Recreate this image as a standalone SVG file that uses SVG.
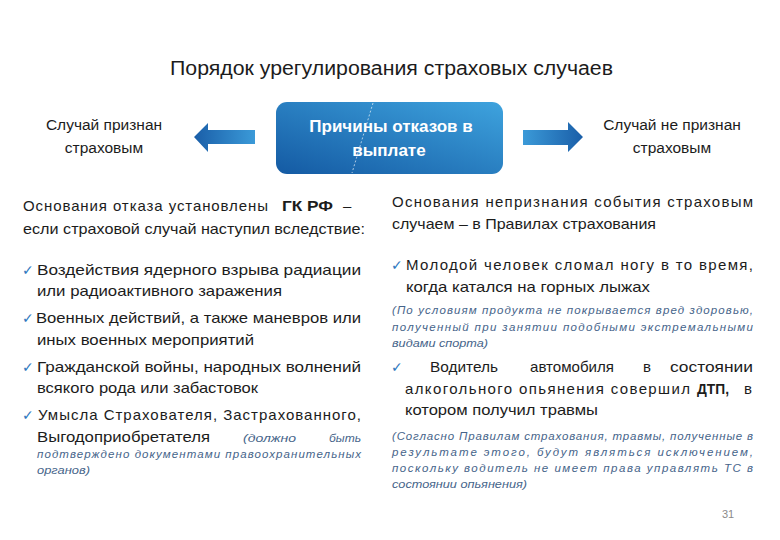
<svg xmlns="http://www.w3.org/2000/svg" width="780" height="540" viewBox="0 0 780 540">
<defs>
<linearGradient id="boxg" x1="0" y1="1" x2="1" y2="0">
<stop offset="0" stop-color="#145aa3"/>
<stop offset="1" stop-color="#3ea3de"/>
</linearGradient>
<linearGradient id="arrL" x1="0" y1="0" x2="1" y2="0">
<stop offset="0" stop-color="#1a5ea8"/>
<stop offset="1" stop-color="#3b9ad8"/>
</linearGradient>
<linearGradient id="arrR" x1="0" y1="0" x2="1" y2="0">
<stop offset="0" stop-color="#3b9ad8"/>
<stop offset="1" stop-color="#1a5ea8"/>
</linearGradient>
</defs>
<style>
text{font-family:"Liberation Sans","DejaVu Sans",sans-serif;fill:#1c1c1c}
.title{font-size:20px}
.lab{font-size:15.5px;text-anchor:middle}
.box{font-size:17px;font-weight:bold;fill:#ffffff;text-anchor:middle}
.b{font-size:15px}
.bb{font-size:15px;font-weight:bold}
.n{font-size:11.5px;font-style:italic;fill:#46648a}
.ck{font-family:"DejaVu Sans",sans-serif;font-size:14px;fill:#2f78c0}
.pg{font-size:11px;fill:#8a8a8a}
</style>
<rect width="780" height="540" fill="#ffffff"/>
<text class="title" x="170" y="75" textLength="443" lengthAdjust="spacingAndGlyphs">Порядок урегулирования страховых случаев</text>

<g id="left-label">
<text class="lab" x="104" y="130">Случай признан</text>
<text class="lab" x="104" y="153">страховым</text>
</g>
<g id="center-box">
<rect x="276" y="102" width="227" height="72" rx="11" fill="url(#boxg)"/>
<line x1="373" y1="103" x2="352" y2="173" stroke="#ffffff" stroke-width="0.8" stroke-dasharray="2 2" opacity="0.8"/>
<text class="box" x="391" y="132">Причины отказов в</text>
<text class="box" x="389" y="156">выплате</text>
</g>
<g id="right-label">
<text class="lab" x="672" y="130">Случай не признан</text>
<text class="lab" x="672" y="153">страховым</text>
</g>
<g id="connectors">
<polygon points="255,130 208,130 208,123 194,137 208,152 208,144 255,144" fill="url(#arrL)"/>
<polygon points="523,130 568,130 568,122 583,137 568,152 568,145 523,145" fill="url(#arrR)"/>
</g>

<g id="left-column">
<text class="b" x="23" y="211" textLength="245" lengthAdjust="spacing">Основания  отказа  установлены</text>
<text class="bb" x="282" y="211" textLength="51" lengthAdjust="spacingAndGlyphs">ГК РФ</text>
<text class="b" x="343" y="211">–</text>
<text class="b" x="23" y="234" textLength="342" lengthAdjust="spacingAndGlyphs">если страховой случай наступил вследствие:</text>

<text class="ck" x="22" y="275">✓</text>
<text class="b" x="37" y="275" textLength="324" lengthAdjust="spacingAndGlyphs">Воздействия ядерного взрыва радиации</text>
<text class="b" x="37" y="296" textLength="245" lengthAdjust="spacingAndGlyphs">или радиоактивного заражения</text>

<text class="ck" x="22" y="323">✓</text>
<text class="b" x="36" y="323" textLength="325" lengthAdjust="spacingAndGlyphs">Военных действий, а также маневров или</text>
<text class="b" x="37" y="345" textLength="217" lengthAdjust="spacingAndGlyphs">иных военных мероприятий</text>

<text class="ck" x="22" y="372">✓</text>
<text class="b" x="37" y="372" textLength="324" lengthAdjust="spacingAndGlyphs">Гражданской войны, народных волнений</text>
<text class="b" x="37" y="393" textLength="221" lengthAdjust="spacingAndGlyphs">всякого рода или забастовок</text>

<text class="ck" x="22" y="420">✓</text>
<text class="b" x="38" y="420" textLength="323" lengthAdjust="spacing">Умысла  Страхователя,  Застрахованного,</text>
<text class="b" x="37" y="442" textLength="173" lengthAdjust="spacingAndGlyphs">Выгодоприобретателя</text>
<text class="n" x="243" y="442" textLength="53" lengthAdjust="spacingAndGlyphs">(должно</text>
<text class="n" x="329" y="442" textLength="32" lengthAdjust="spacingAndGlyphs">быть</text>
<text class="n" x="37" y="458" textLength="324" lengthAdjust="spacing">подтверждено документами правоохранительных</text>
<text class="n" x="37" y="474" textLength="53" lengthAdjust="spacingAndGlyphs">органов)</text>
</g>

<g id="right-column">
<text class="b" x="392" y="207" textLength="361" lengthAdjust="spacing">Основания  непризнания  события  страховым</text>
<text class="b" x="392" y="229" textLength="264" lengthAdjust="spacingAndGlyphs">случаем – в Правилах страхования</text>

<text class="ck" x="391" y="270">✓</text>
<text class="b" x="406" y="270" textLength="347" lengthAdjust="spacing">Молодой человек  сломал ногу в то время,</text>
<text class="b" x="406" y="292" textLength="244" lengthAdjust="spacingAndGlyphs">когда  катался на горных лыжах</text>
<text class="n" x="392" y="314" textLength="361" lengthAdjust="spacing">(По условиям продукта не покрывается вред здоровью,</text>
<text class="n" x="392" y="331" textLength="361" lengthAdjust="spacing">полученный при занятии подобными экстремальными</text>
<text class="n" x="392" y="347" textLength="96" lengthAdjust="spacingAndGlyphs">видами спорта)</text>

<text class="ck" x="391" y="372">✓</text>
<text class="b" x="430" y="372" textLength="68" lengthAdjust="spacingAndGlyphs">Водитель</text>
<text class="b" x="530" y="372" textLength="84" lengthAdjust="spacingAndGlyphs">автомобиля</text>
<text class="b" x="643" y="372">в</text>
<text class="b" x="670" y="372" textLength="83" lengthAdjust="spacingAndGlyphs">состоянии</text>
<text class="b" x="405" y="394" textLength="285" lengthAdjust="spacing">алкогольного  опьянения  совершил</text>
<text class="bb" x="697" y="394" textLength="32" lengthAdjust="spacingAndGlyphs">ДТП,</text>
<text class="b" x="744" y="394">в</text>
<text class="b" x="405" y="415" textLength="193" lengthAdjust="spacingAndGlyphs">котором получил травмы</text>
<text class="n" x="392" y="440" textLength="361" lengthAdjust="spacing">(Согласно Правилам страхования, травмы, полученные в</text>
<text class="n" x="392" y="456" textLength="361" lengthAdjust="spacing">результате  этого,  будут  являться  исключением,</text>
<text class="n" x="392" y="472" textLength="361" lengthAdjust="spacing">поскольку водитель не имеет права управлять ТС в</text>
<text class="n" x="392" y="488" textLength="135" lengthAdjust="spacingAndGlyphs">состоянии опьянения)</text>
</g>
<text class="pg" x="722" y="518">31</text>
</svg>
